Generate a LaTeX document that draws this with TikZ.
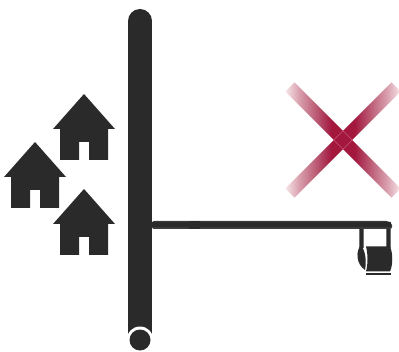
\documentclass[tikz,border=0pt]{standalone}
\definecolor{dk}{HTML}{2B2A2B}
\definecolor{pipeg}{HTML}{3C3B3C}
\definecolor{seam}{HTML}{C9567A}
\definecolor{armA}{rgb}{0.97,0.90,0.91}
\definecolor{armB}{rgb}{0.85,0.62,0.68}
\definecolor{armC}{rgb}{0.72,0.33,0.43}
\definecolor{armD}{rgb}{0.64,0.09,0.24}
\pgfdeclarehorizontalshading{armfade}{100bp}{
  color(0bp)=(armA);
  color(25bp)=(armA);
  color(31bp)=(armB);
  color(39bp)=(armC);
  color(45bp)=(armD);
  color(55bp)=(armD);
  color(61bp)=(armC);
  color(69bp)=(armB);
  color(75bp)=(armA);
  color(100bp)=(armA)}
\tikzset{
  house/.pic={
    \fill[dk] (0,0) -- (31,35) -- (24,35) -- (24,66) -- (5,66) -- (5,48) -- (-5,48) -- (-5,66) -- (-24,66) -- (-24,35) -- (-31,35) -- cycle;
  },
  armshade/.style={shading=armfade}
}
\begin{document}
\begin{tikzpicture}[x=0.75pt,y=-0.75pt]
\useasboundingbox (0,0) rectangle (399,352);
% vertical pipe
\fill[dk] (128,21) rectangle (152,340);
\fill[dk] (140,21) circle[radius=12];
\fill[white] (140,340) circle[radius=13.5];
\fill[white] (126.5,340) rectangle (153.5,353);
\fill[dk] (140,340) circle[radius=10.5];
% horizontal pipe
\fill[pipeg,rounded corners=1.5pt] (152,221) -- (388,221) -- (392,223) -- (392,229) -- (152,229) -- cycle;
\fill[dk] (152,222.5) rectangle (391,227.5);
\fill[dk] (189,221) rectangle (200,229);
% straps
\fill[black!55] (358.5,229) rectangle (364,248);
\fill[dk] (360,229) rectangle (362.5,248);
\fill[black!55] (385.5,229) rectangle (391,248);
\fill[dk] (387,229) rectangle (389.5,248);
% roll
\fill[dk] (366,246.5) -- (390,246.5) .. controls (393,253) and (393,265) .. (390,271.5) -- (366,271.5) .. controls (368,264) and (368,254) .. (366,246.5) -- cycle;
\fill[dk] (361,245) .. controls (355.5,251) and (356,264) .. (365,270) .. controls (366.5,262) and (366,252) .. (361,245) -- cycle;
\fill[dk] (366,273) rectangle (391,275);
% houses
\pic at (84,94) {house};
\pic at (35,142) {house};
\pic at (84,189) {house};
% cross
\begin{scope}[shift={(343,140)},rotate=45]
  \shade[armshade] (-75,-6.5) rectangle (75,6.5);
\end{scope}
\begin{scope}[shift={(343,140)},rotate=-45]
  \shade[armshade] (-75,-6.5) rectangle (75,6.5);
  \draw[seam,line width=0.4pt] (-6.5,-6.5) rectangle (6.5,6.5);
\end{scope}
\end{tikzpicture}
\end{document}
